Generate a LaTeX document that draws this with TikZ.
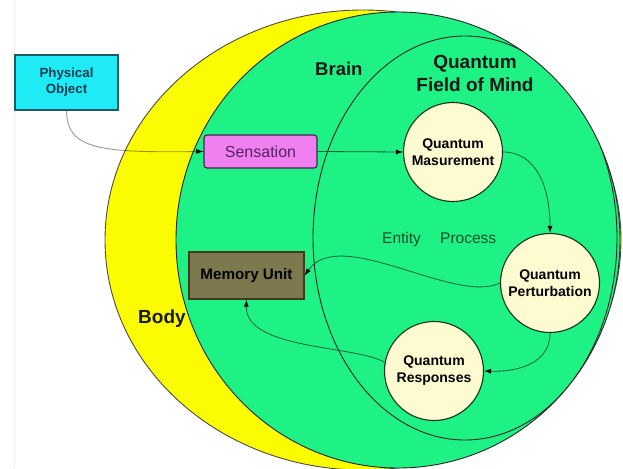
\documentclass[tikz,border=0pt]{standalone}
\usepackage{fontspec}
\setmainfont{Liberation Sans}
\usetikzlibrary{arrows.meta}
\definecolor{bodyyellow}{RGB}{252,252,0}
\definecolor{braingreen}{RGB}{30,242,132}
\definecolor{cream}{RGB}{255,251,208}
\definecolor{sensfill}{RGB}{240,128,240}
\definecolor{sensdraw}{RGB}{70,30,80}
\definecolor{physfill}{RGB}{30,235,245}
\definecolor{physdraw}{RGB}{30,90,100}
\definecolor{memfill}{RGB}{125,120,78}
\definecolor{memdraw}{RGB}{60,60,30}
\definecolor{circdraw}{RGB}{20,50,30}
\definecolor{linkgreen}{RGB}{15,100,55}
\definecolor{textgreen}{RGB}{18,80,42}
\definecolor{senstext}{RGB}{85,35,100}
\definecolor{phystext}{RGB}{20,60,80}
\begin{document}
\begin{tikzpicture}[x=1pt,y=-1pt,
  physbox/.style={draw=physdraw, fill=physfill, line width=1.2pt, minimum width=103pt, minimum height=55pt, inner sep=0pt, align=center, font=\fontsize{13.3}{16}\selectfont\bfseries, text=phystext},
  sensbox/.style={draw=sensdraw, fill=sensfill, line width=1.1pt, rounded corners=3pt, minimum width=113pt, minimum height=33pt, inner sep=0pt, font=\fontsize{16}{19}\selectfont, text=senstext},
  membox/.style={draw=memdraw, fill=memfill, line width=1.2pt, minimum width=115pt, minimum height=47pt, inner sep=0pt, font=\fontsize{15.2}{18}\selectfont\bfseries, text=black},
  qcircle/.style={circle, draw=circdraw, fill=cream, line width=1.1pt, minimum size=99pt, inner sep=0pt, align=center, font=\fontsize{14}{17}\selectfont\bfseries},
  bigbold/.style={inner sep=0pt, font=\fontsize{19}{23}\selectfont\bfseries, text=black!90},
  plaintext/.style={inner sep=0pt, font=\fontsize{15.5}{18}\selectfont, text=textgreen},
  link/.style={draw=linkgreen, line width=0.8pt, -{Latex[length=7pt,width=5pt,color=black]}},
  graylink/.style={draw=black, draw opacity=0.4, line width=0.9pt},
  tiponly/.style={draw=black, line width=0.8pt, -{Latex[length=7pt,width=5pt]}}
]
\useasboundingbox (0,0) rectangle (623,468);
\clip (0,0) rectangle (623,468);
\fill[white] (0,0) rectangle (623,468);
\draw[gray!12] (14,0) -- (14,468);
% Body and Brain
\draw[fill=bodyyellow, draw=black!70, line width=0.9pt] (363,240) ellipse [x radius=258, y radius=230];
\draw[fill=braingreen, draw=black!85, line width=0.9pt] (398,240) ellipse [x radius=222, y radius=228];
% Quantum field of mind
\begin{scope}
  \clip (398,240) ellipse [x radius=222, y radius=228];
  \draw[black!85, line width=0.9pt] (465,238) ellipse [x radius=152, y radius=202];
\end{scope}
% labels
\node[bigbold, anchor=base west, font=\fontsize{18.5}{22}\selectfont\bfseries] (brain) at (315,76) {Brain};
\node[bigbold, anchor=base west] (body) at (138,323) {Body};
\node[bigbold, align=center] (qfm) at (475,73.5) {Quantum\\Field of Mind};
\node[plaintext, anchor=base west] (entity) at (382,243) {Entity};
\node[plaintext, anchor=base west] (process) at (440,243) {Process};
% boxes and circles
\node[physbox] (phys) at (66.5,82.5) {Physical\\Object};
\node[sensbox] (sens) at (260.5,151.5) {Sensation};
\node[membox] (mem) at (246.5,275.5) {Memory Unit};
\node[qcircle] (qm) at (453,152) {Quantum\\Masurement};
\node[qcircle] (qp) at (550,283) {Quantum\\Perturbation};
\node[qcircle] (qr) at (434,371) {Quantum\\Responses};
% connectors
\draw[graylink] (phys.south) .. controls (67,150) and (100,153) .. (sens.west);
\draw[tiponly] ([xshift=-2pt]sens.west) -- (sens.west);
\draw[link] (sens.east) -- (qm.west);
\draw[link] (qm.east) .. controls (535,152) and (550,185) .. (qp.north);
\draw[link] (qp.west) .. controls (455,305) and (340,225) .. (mem.east);
\draw[link] (qp.south) .. controls (550,365) and (515,372) .. (qr.east);
\draw[link] (qr.170) .. controls (355,345) and (245,350) .. (mem.south);
\end{tikzpicture}
\end{document}
